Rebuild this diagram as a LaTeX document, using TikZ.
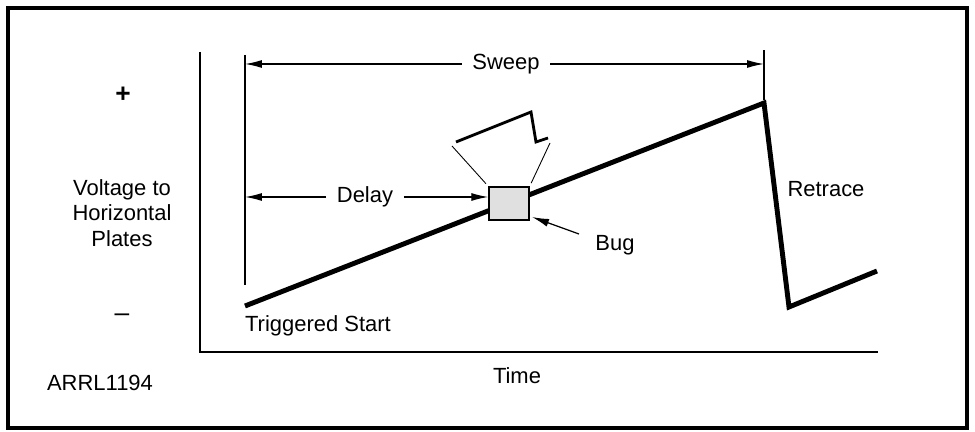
\documentclass[tikz,border=0pt]{standalone}
\usepackage{fontspec}
\setmainfont{Liberation Sans}
\usetikzlibrary{arrows.meta,positioning}

\begin{document}
\begin{tikzpicture}[x=0.02cm,y=-0.02cm,
    lbl/.style={font=\fontsize{12.5}{14.7}\selectfont, inner sep=1pt},
    sign/.style={font=\fontsize{15}{18}\selectfont\bfseries, inner sep=1pt},
    gap/.style={lbl, inner sep=6pt},
    trace/.style={line width=2.8pt, line join=miter},
    dim/.style={line width=0.7pt, -{Latex[length=0.34cm,width=0.16cm]}},
    ext/.style={line width=0.7pt}]
        \useasboundingbox (0,0) rectangle (975,432);

        % Outer frame
        \draw[line width=2pt] (8,8) rectangle (967,428);

        % Axes
        \draw[line width=1.1pt] (200,52) -- (200,352) -- (878,352);

        % Sweep trace
        \coordinate (start) at (245,306);
        \coordinate (peak) at (764,103);
        \coordinate (low) at (789,307);
        \coordinate (tail) at (877,271);
        \draw[trace] (start) -- (peak) -- (low) -- (tail);

        % Bug box on the ramp
        \node[draw, line width=0.8pt, fill=black!12, minimum width=0.8cm, minimum height=0.66cm] (bug) at (509,203.5) {};

        % Magnified glitch
        \draw[line width=1.6pt] (456,142) -- (531,112) -- (536,142) -- (548,138);
        \draw[line width=0.5pt, shorten >=2pt] (452,146) -- (bug.north west);
        \draw[line width=0.5pt, shorten >=2pt] (550,143) -- (bug.north east);

        % Extension lines
        \draw[ext] (245,55) -- (245,285);
        \draw[ext] (764,50) -- (764,100);

        % Sweep dimension
        \node[gap] (sweep) at (506,64) {Sweep};
        \coordinate (sweepL) at (245,64);
        \coordinate (sweepR) at (764,64);
        \draw[dim] (sweep) -- (sweepL);
        \draw[dim] (sweep) -- (sweepR);

        % Delay dimension
        \node[gap] (delay) at (365,197) {Delay};
        \coordinate (delayL) at (245,197);
        \draw[dim] (delay) -- (delayL);
        \draw[dim] (delay.east) -- (bug.west |- delay.east);

        % Bug pointer
        \node[lbl] (buglbl) at (615,245) {Bug};
        \coordinate (bugtip) at (532,217);
        \draw[dim] (579,234) -- (bugtip);

        % Labels
        \node[lbl] (retrace) at (826,189) {Retrace};
        \node[lbl, anchor=west] (trig) at (243,326) {Triggered Start};
        \node[sign] (plus) at (123,95) {+};
        \node[lbl, font=\fontsize{15}{18}\selectfont] (minus) at (122,318) {\textendash};
        \node[lbl, align=center] (ylbl) at (122,213) {Voltage to\\Horizontal\\Plates};
        \node[lbl] (time) at (517,376) {Time};
        \node[lbl] (fig) at (100,383) {ARRL1194};
\end{tikzpicture}
\end{document}
